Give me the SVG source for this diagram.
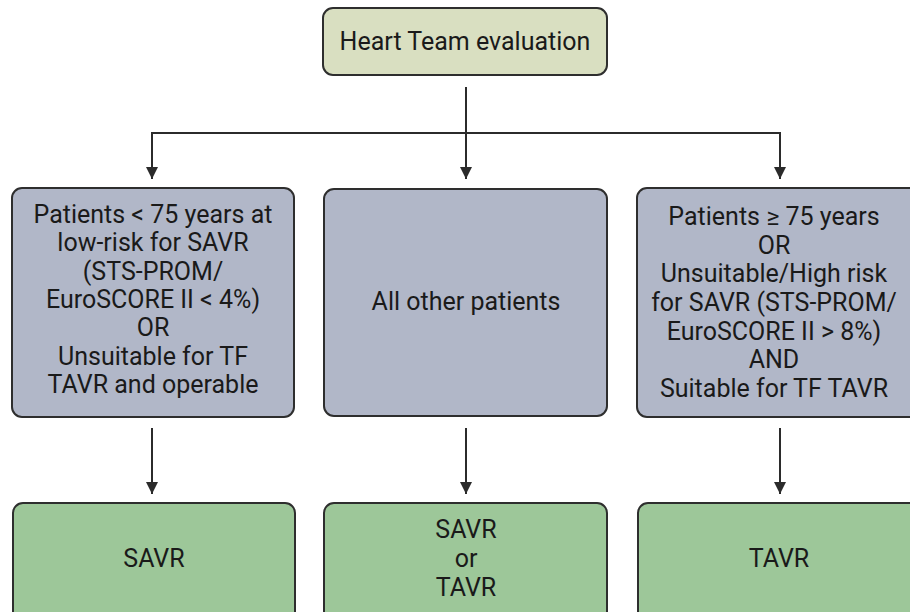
<svg xmlns="http://www.w3.org/2000/svg" width="910" height="612" viewBox="0 0 910 612">
<defs>
<marker id="ah" viewBox="0 0 12 12" refX="12" refY="6" markerWidth="12" markerHeight="12" markerUnits="userSpaceOnUse" orient="auto">
<path d="M0,0 L12,6 L0,12 z" fill="#2b2b2b"/>
</marker>
<style>
.box{stroke:#2e2e2e;stroke-width:2}
.top{fill:#d9dfc1}
.mid{fill:#b1b7c8}
.bot{fill:#9dc799}
text{font-family:Roboto,"Liberation Sans",sans-serif;font-size:25px;fill:#1a1a1a;text-anchor:middle}
.conn{stroke:#2b2b2b;stroke-width:2;fill:none}
</style>
</defs>
<rect width="910" height="612" fill="#ffffff"/>
<g id="connectors">
<line class="conn" x1="466" y1="87" x2="466" y2="179" marker-end="url(#ah)"/>
<polyline class="conn" points="152,179 152,133 780,133 780,179"/>
<line class="conn" x1="152" y1="133" x2="152" y2="179" marker-end="url(#ah)"/>
<line class="conn" x1="780" y1="133" x2="780" y2="179" marker-end="url(#ah)"/>
<line class="conn" x1="152" y1="428" x2="152" y2="494" marker-end="url(#ah)"/>
<line class="conn" x1="466" y1="428" x2="466" y2="494" marker-end="url(#ah)"/>
<line class="conn" x1="780" y1="428" x2="780" y2="494" marker-end="url(#ah)"/>
</g>
<g id="heart-team">
<rect class="box top" x="323" y="8" width="284" height="67" rx="10"/>
<text x="465" y="50">Heart Team evaluation</text>
</g>
<g id="group-young">
<rect class="box mid" x="12" y="188" width="282" height="229" rx="10"/>
<text x="153" y="223">Patients &lt; 75 years at</text>
<text x="153" y="251">low-risk for SAVR</text>
<text x="153" y="280">(STS-PROM/</text>
<text x="153" y="308">EuroSCORE II &lt; 4%)</text>
<text x="153" y="336">OR</text>
<text x="153" y="365">Unsuitable for TF</text>
<text x="153" y="393">TAVR and operable</text>
</g>
<g id="group-other">
<rect class="box mid" x="324" y="189" width="283" height="227" rx="10"/>
<text x="466" y="310">All other patients</text>
</g>
<g id="group-old">
<rect class="box mid" x="637" y="188" width="284" height="229" rx="10"/>
<text x="774" y="225">Patients ≥ 75 years</text>
<text x="774" y="254">OR</text>
<text x="774" y="282">Unsuitable/High risk</text>
<text x="774" y="311">for SAVR (STS-PROM/</text>
<text x="774" y="340">EuroSCORE II &gt; 8%)</text>
<text x="774" y="368">AND</text>
<text x="774" y="397">Suitable for TF TAVR</text>
</g>
<g id="result-savr">
<rect class="box bot" x="13" y="503" width="282" height="120" rx="10"/>
<text x="154" y="567">SAVR</text>
</g>
<g id="result-either">
<rect class="box bot" x="324" y="503" width="283" height="120" rx="10"/>
<text x="466" y="538">SAVR</text>
<text x="466" y="567">or</text>
<text x="466" y="596">TAVR</text>
</g>
<g id="result-tavr">
<rect class="box bot" x="638" y="503" width="283" height="120" rx="10"/>
<text x="779" y="567">TAVR</text>
</g>
</svg>
